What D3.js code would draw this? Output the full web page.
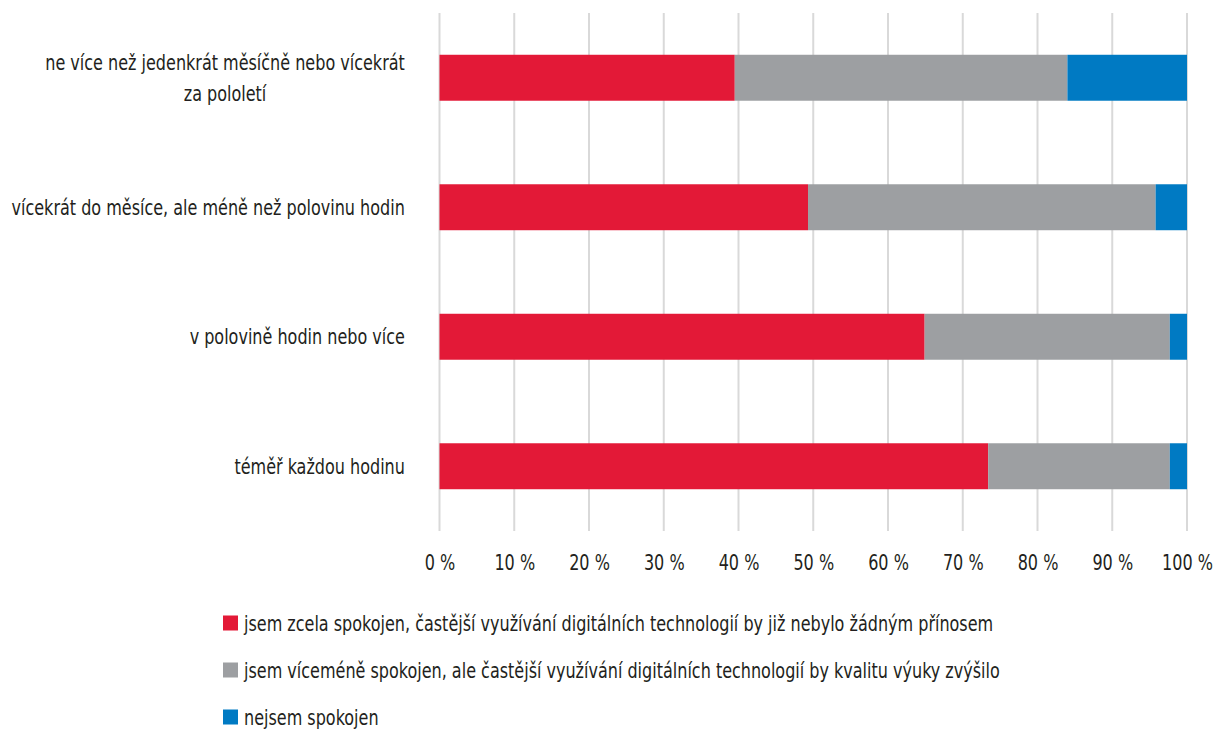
<!DOCTYPE html>
<html>
<head>
<meta charset="utf-8">
<script src="https://cdn.jsdelivr.net/npm/d3@7"></script>
<style>
  body { margin: 0; background: #fff; }
  text { font-family: "DejaVu Sans Condensed", "Liberation Sans Narrow", "Noto Sans", sans-serif; fill: #231f20; }
</style>
</head>
<body>
<div id="chart"></div>
<script>
// categories top to bottom, each label split into lines
const categories = [
    ["ne více než jedenkrát měsíčně nebo vícekrát", "za pololetí"],
    ["vícekrát do měsíce, ale méně než polovinu hodin"],
    ["v polovině hodin nebo více"],
    ["téměř každou hodinu"]
];

const seriesNames = [
    "jsem zcela spokojen, častější využívání digitálních technologií by již nebylo žádným přínosem",
    "jsem víceméně spokojen, ale častější využívání digitálních technologií by kvalitu výuky zvýšilo",
    "nejsem spokojen"
];
const seriesColors = ["#e31937", "#9d9fa2", "#007ac3"];

// percentages per category (same order as categories)
const spokojen = [39.5, 49.3, 64.9, 73.4];
const vicemene = [44.5, 46.5, 32.8, 24.3];
const nespokojen = [16.0, 4.2, 2.3, 2.3];

const xTicks = [0, 10, 20, 30, 40, 50, 60, 70, 80, 90, 100];

const width = 1213, height = 729;
const margin = {top: 13, right: 26, bottom: 198, left: 439.5};
const fontSize = "22px";
const squeeze = 0.81;   // the original font is a condensed face

const svg = d3.select("#chart").append("svg")
    .attr("width", width)
    .attr("height", height);

const x = d3.scaleLinear()
    .domain([0, 100])
    .range([margin.left, width - margin.right]);

const y = d3.scaleBand()
    .domain(d3.range(categories.length))
    .range([margin.top, height - margin.bottom])
    .paddingInner(0.645)
    .paddingOuter(0.3225);

// gridlines
svg.append("g")
    .selectAll("line")
    .data(xTicks)
    .enter().append("line")
        .attr("x1", d => x(d))
        .attr("x2", d => x(d))
        .attr("y1", margin.top)
        .attr("y2", height - margin.bottom)
        .attr("stroke", "#d9d9d9")
        .attr("stroke-width", 2);

// stacked bars
const rows = categories.map((c, i) => ({i: i, v0: spokojen[i], v1: vicemene[i], v2: nespokojen[i]}));
const stack = d3.stack().keys(["v0", "v1", "v2"]);
const layers = stack(rows);

svg.append("g")
    .selectAll("g")
    .data(layers)
    .enter().append("g")
        .attr("fill", (d, k) => seriesColors[k])
    .selectAll("rect")
    .data(d => d)
    .enter().append("rect")
        .attr("x", d => x(d[0]))
        .attr("width", d => x(d[1]) - x(d[0]))
        .attr("y", d => y(d.data.i))
        .attr("height", y.bandwidth());

// x axis labels
const xAxis = d3.axisBottom(x)
    .tickValues(xTicks)
    .tickSize(0)
    .tickPadding(0)
    .tickFormat(d => d + " %");

const gx = svg.append("g")
    .attr("transform", `translate(0, ${height - margin.bottom + 31})`)
    .call(xAxis);
gx.select(".domain").remove();
gx.selectAll("text")
    .attr("dy", "0.35em")
    .attr("y", 0)
    .attr("transform", `scale(${squeeze},1)`)
    .style("font-size", fontSize)
    .attr("fill", "#231f20");

// category labels
const labelRight = 405;
const lineH = 31;
categories.forEach((lines, i) => {
    const cy = y(i) + y.bandwidth() / 2;
    const g = svg.append("g");
    const t = g.append("text")
        .style("font-size", fontSize)
        .attr("text-anchor", "middle");
    lines.forEach((ln, j) => {
        t.append("tspan")
            .attr("x", 0)
            .attr("y", (j - (lines.length - 1) / 2) * lineH)
            .attr("dy", "0.35em")
            .text(ln);
    });
    let maxW = 0;
    t.selectAll("tspan").each(function() {
        maxW = Math.max(maxW, this.getComputedTextLength());
    });
    g.attr("transform", `translate(${labelRight - maxW * squeeze / 2}, ${cy}) scale(${squeeze},1)`);
});

// legend
const legend = svg.append("g")
    .selectAll("g")
    .data(seriesNames)
    .enter().append("g")
        .attr("transform", (d, k) => `translate(223, ${623 + k * 47})`);

legend.append("rect")
    .attr("x", 0)
    .attr("y", -7.5)
    .attr("width", 15)
    .attr("height", 15)
    .attr("fill", (d, k) => seriesColors[k]);

legend.append("text")
    .attr("transform", `translate(21,0) scale(${squeeze},1)`)
    .attr("dy", "0.35em")
    .style("font-size", fontSize)
    .text(d => d);
</script>
</body>
</html>
